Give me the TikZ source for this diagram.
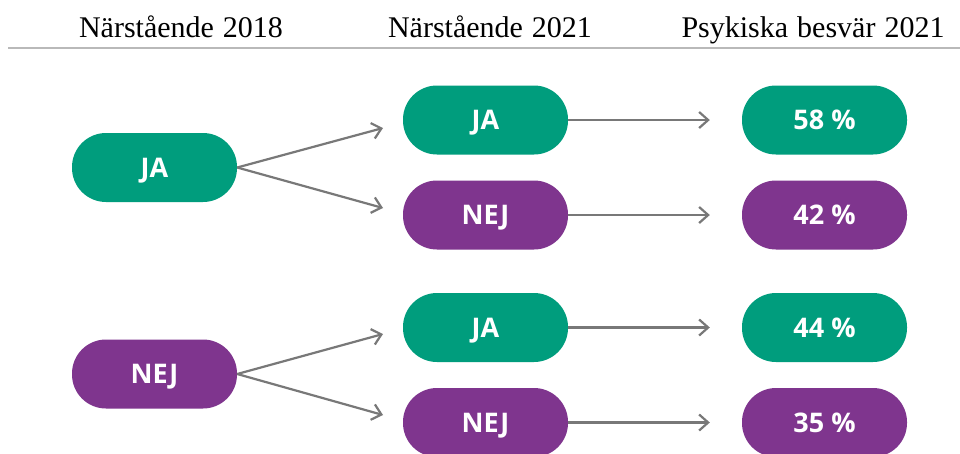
\documentclass[tikz,border=0pt]{standalone}
\usepackage{fontspec}
\setmainfont{Liberation Serif}
\newfontfamily\pillfont{Open Sans}
\usetikzlibrary{arrows.meta}
\definecolor{pgreen}{RGB}{0,157,125}
\definecolor{ppurple}{RGB}{127,53,142}
\definecolor{lgray}{RGB}{120,120,120}
\definecolor{rulegray}{RGB}{185,185,185}
\tikzset{
  pill/.style={rectangle, rounded corners=34pt, minimum width=165pt, minimum height=69pt,
    inner sep=0pt, text height=19pt, text depth=0pt, text=white,
    font=\pillfont\bfseries\fontsize{27}{32}\selectfont},
  gpill/.style={pill, fill=pgreen},
  vpill/.style={pill, fill=ppurple},
  conn/.style={draw=lgray, line width=2.2pt, -{Straight Barb[length=9pt,width=16pt,line width=2.2pt]}},
  head/.style={font=\fontsize{30}{36}\selectfont, inner sep=0pt, anchor=base}
}
\begin{document}
\begin{tikzpicture}[x=1pt,y=-1pt]
\clip (0,0) rectangle (960,453);
\fill[white] (0,0) rectangle (960,453);
% headers
\node[head] (h1) at (181,37) {Närstående\kern1.5pt\ 2018};
\node[head] (h2) at (490,37) {Närstående\kern1.5pt\ 2021};
\node[head] (h3) at (813,37) {Psykiska\kern1.5pt\ besvär\kern1.5pt\ 2021};
\draw[rulegray, line width=1.5pt] (8,48) -- (960,48);
% left column
\node[gpill] (lja) at (154.5,167.5) {JA};
\node[vpill] (lnej) at (154.5,374) {NEJ};
% middle column
\node[gpill] (mja1) at (485.5,120) {JA};
\node[vpill] (mnej1) at (485.5,215) {NEJ};
\node[gpill] (mja2) at (485.5,327.5) {JA};
\node[vpill] (mnej2) at (485.5,422.5) {NEJ};
% right column
\node[gpill] (r1) at (824.5,120) {58 \%};
\node[vpill] (r2) at (824.5,215) {42 \%};
\node[gpill] (r3) at (824.5,327.5) {44 \%};
\node[vpill] (r4) at (824.5,422.5) {35 \%};
% arrow end points
\coordinate (t1) at (383,128);
\coordinate (t2) at (383,208);
\coordinate (t3) at (383,334);
\coordinate (t4) at (383,415);
\draw[conn] (lja.east) -- (t1);
\draw[conn] (lja.east) -- (t2);
\draw[conn] (lnej.east) -- (t3);
\draw[conn] (lnej.east) -- (t4);
\draw[conn, shorten >=32pt] (mja1) -- (r1);
\draw[conn, shorten >=32pt] (mnej1) -- (r2);
\draw[conn, shorten >=32pt] (mja2) -- (r3);
\draw[conn, shorten >=32pt] (mnej2) -- (r4);
\end{tikzpicture}
\end{document}
